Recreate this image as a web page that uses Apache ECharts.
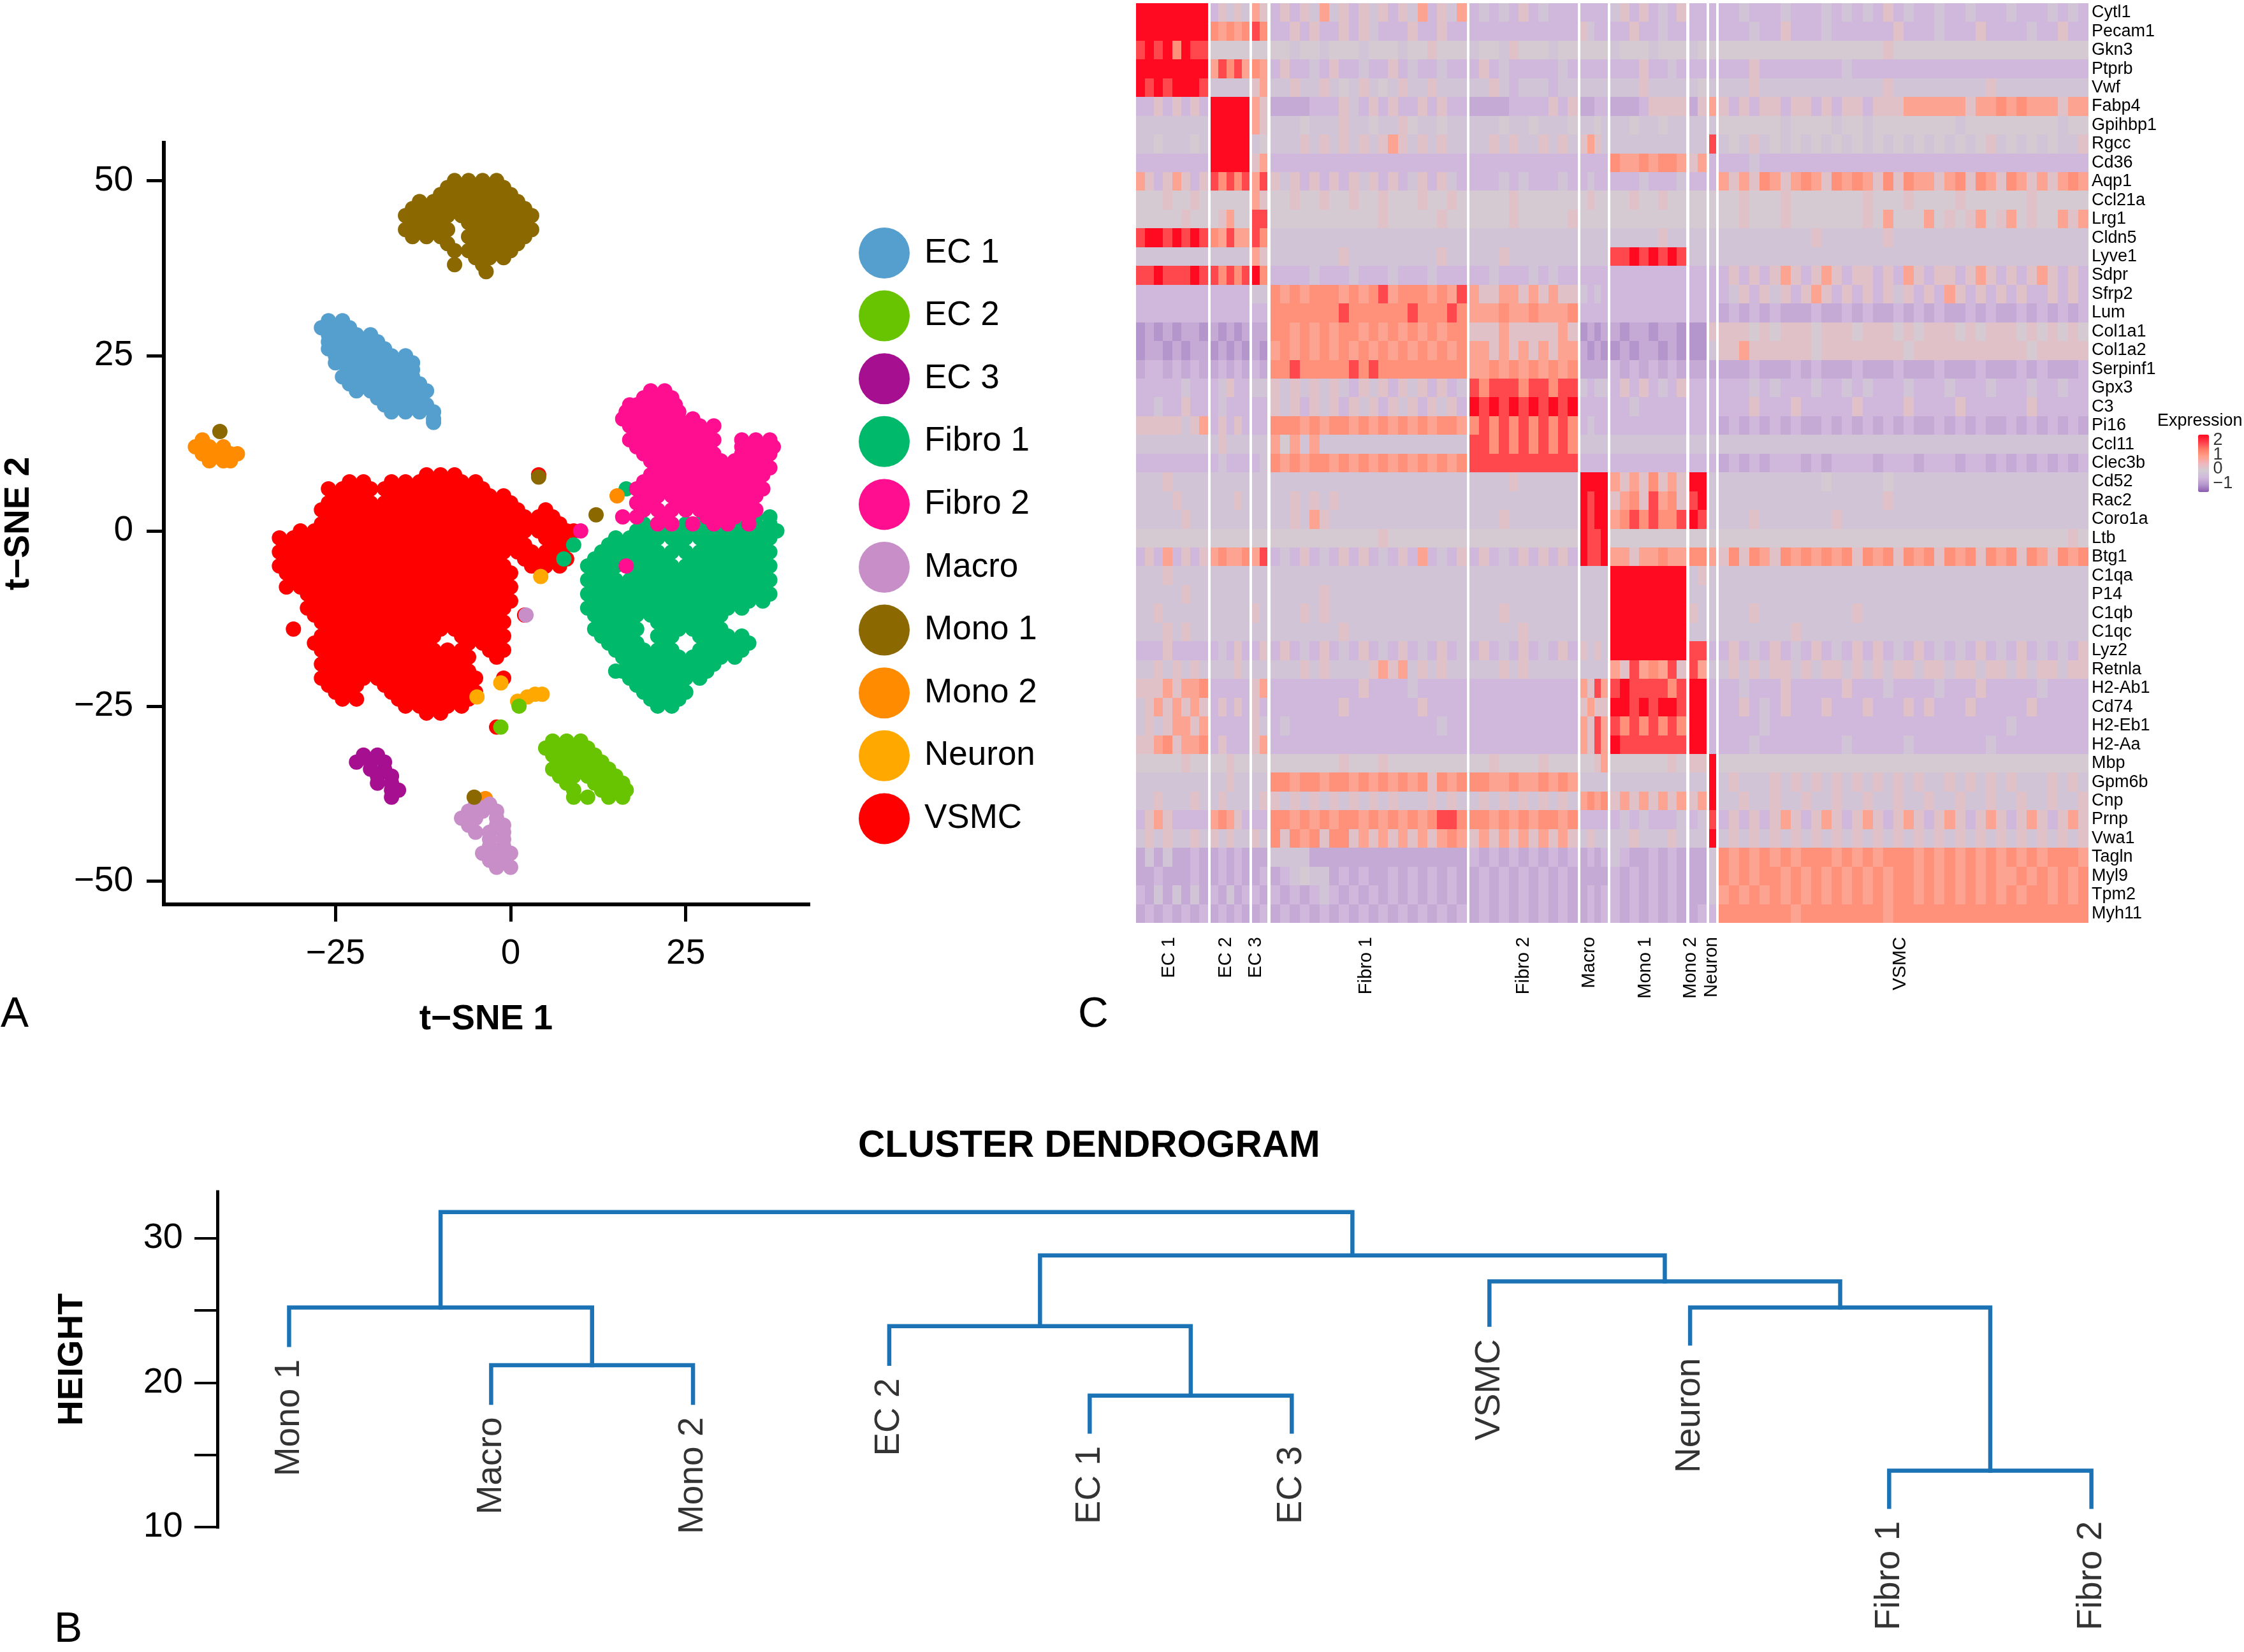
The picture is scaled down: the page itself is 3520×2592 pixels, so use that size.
<!DOCTYPE html>
<html><head><meta charset="utf-8">
<script src="https://cdn.jsdelivr.net/npm/echarts@6/dist/echarts.min.js"></script>
<style>html,body{margin:0;background:#fff}#c{width:3520px;height:2592px}</style></head>
<body><div id="c"></div>
<script>
// ---------- Panel A: t-SNE, each row is [y, x, x, x ...]
const vsmcRows=[
[8,-12,-10,-8,4],
[7,-23,-21,-17,-15,-13,-11,-9,-7,-5],
[6,-26,-24,-22,-20,-18,-16,-14,-12,-10,-8,-6,-4],
[5,-25,-23,-21,-17,-15,-13,-11,-9,-7,-5,-3,-1],
[4,-26,-24,-22,-20,-18,-16,-14,-12,-10,-8,-6,-4,-2,0],
[3,-27,-25,-23,-21,-19,-17,-15,-13,-11,-9,-7,-5,-3,-1,1,5],
[2,-26,-24,-22,-20,-18,-16,-14,-12,-10,-8,-6,-4,-2,0,2,4,6],
[1,-27,-25,-23,-21,-19,-17,-15,-13,-11,-9,-7,-5,-3,-1,1,3,5,7],
[0,-30,-28,-26,-24,-22,-20,-18,-16,-14,-12,-10,-8,-6,-4,-2,0,2,4,6,8,9],
[-1,-33,-31,-29,-27,-25,-23,-21,-19,-17,-15,-13,-11,-9,-7,-5,-3,-1,1,5,7],
[-2,-32,-30,-28,-26,-24,-22,-20,-18,-16,-14,-12,-10,-8,-6,-4,-2,0,2,6,8],
[-3,-33,-31,-29,-27,-25,-23,-21,-19,-17,-15,-13,-11,-9,-7,-5,-3,-1,1,3,5,7],
[-4,-32,-30,-28,-26,-24,-22,-20,-18,-16,-14,-12,-10,-8,-6,-4,-2,2,4,6,8],
[-5,-33,-31,-29,-27,-25,-23,-21,-19,-17,-15,-13,-11,-9,-7,-5,-3,-1,3,5,7],
[-6,-32,-30,-28,-26,-24,-22,-20,-18,-16,-14,-12,-10,-8,-6,-4,-2,0],
[-7,-31,-29,-27,-25,-23,-21,-19,-17,-15,-13,-11,-9,-7,-5,-3,-1],
[-8,-32,-30,-28,-26,-24,-22,-20,-18,-16,-14,-12,-10,-8,-6,-4,-2,0],
[-9,-29,-27,-25,-23,-21,-19,-17,-15,-13,-11,-9,-7,-5,-3,-1],
[-10,-28,-26,-24,-22,-20,-18,-16,-14,-12,-10,-8,-6,-4,-2,0],
[-11,-29,-27,-25,-23,-21,-19,-17,-15,-13,-11,-9,-7,-5,-3,-1],
[-12,-28,-26,-24,-22,-20,-18,-16,-14,-12,-10,-8,-6,-4,-2,2],
[-13,-27,-25,-23,-21,-19,-17,-15,-13,-11,-9,-7,-5,-3,-1],
[-14,-31,-26,-24,-22,-20,-18,-16,-14,-12,-10,-8,-6,-4,-2],
[-15,-27,-25,-23,-21,-19,-17,-15,-13,-11,-7,-5,-3,-1],
[-16,-28,-26,-24,-22,-20,-18,-16,-14,-12,-6,-4,-2],
[-17,-27,-25,-23,-21,-19,-17,-15,-13,-11,-9,-7,-3,-1],
[-18,-26,-24,-22,-20,-18,-16,-14,-12,-10,-8,-6,-2],
[-19,-27,-25,-23,-21,-19,-17,-15,-13,-11,-9,-7],
[-20,-26,-24,-22,-20,-18,-16,-14,-12,-10,-8,-6],
[-21,-27,-25,-23,-21,-19,-17,-15,-13,-11,-9,-7,-5,-1],
[-22,-26,-24,-22,-18,-16,-14,-12,-10,-8,-6],
[-23,-25,-23,-17,-15,-13,-11,-9,-7,-5],
[-24,-24,-22,-16,-14,-12,-10,-8,-6],
[-25,-15,-13,-11,-9,-7],
[-26,-12,-10],
[-28,-2]];
const fibro1Rows=[
[6,16.5],
[2,35,37],
[1,19,21,23,25,27,29,31,33,35,37],
[0,18,20,22,24,26,28,30,32,34,36,38],
[-1,15,17,19,21,23,25,27,29,31,33,35,37],
[-2,9,14,16,18,20,24,28,30,32,34,36],
[-3,13,15,17,19,21,23,25,27,29,31,33,35,37],
[-4,7.6,12,14,16,18,20,22,26,28,30,32,34,36],
[-5,11,13,15,17,19,21,23,25,27,29,31,33,35,37],
[-6,12,14,18,20,22,24,26,28,30,32,34,36],
[-7,11,13,15,17,19,21,23,25,27,29,31,33,35,37],
[-8,12,14,16,18,20,22,24,26,28,30,32,34,36],
[-9,11,13,15,17,19,21,23,25,27,29,31,33,35,37],
[-10,12,14,16,18,20,22,24,26,28,30,32,34,36],
[-11,11,13,15,17,19,21,23,25,27,29,31,33],
[-12,12,14,16,18,20,22,24,26,28,30],
[-13,13,15,17,21,23,25,27,29],
[-14,12,14,16,18,22,24,26,28,30],
[-15,13,15,17,21,23,27,29,31,33],
[-16,14,16,18,22,28,30,32,34],
[-17,15,17,19,21,23,27,29,31,33],
[-18,16,18,20,22,24,26,28,30,32],
[-19,17,19,21,23,25,27,29],
[-20,15,16,18,20,22,24,26,28],
[-21,17,19,21,23,25,27],
[-22,18,20,22,24],
[-23,19,21,23,25],
[-24,20,22,24],
[-25,21,23]];
const fibro2Rows=[
[20,20,22],
[19,19,21,23],
[18,17,18,20,22,23.5],
[17,16.5,17,19,21,23,24],
[16,16,18,20,22,24,26],
[15,17,19,21,23,25,27,29],
[14,18,20,22,24,26,28],
[13,17,19,21,23,25,27,29,33,35,37],
[12,18,20,22,24,26,28,33,34,36,37.5],
[11,19,21,23,25,27,29,33,35,37],
[10,20,22,24,26,28,30,32,34,36],
[9,21,23,25,27,29,31,33,35,37],
[8,20,22,24,26,28,30,32,34,36],
[7,19,21,23,25,27,29,31,33,35],
[6,18,20,22,24,26,28,30,32,34,36],
[5,19,21,23,25,27,29,31,33,35],
[4,18,20,24,26,28,30,32,34],
[3,19,21,23,25,27,29,31,33,35],
[2,16,18,22,28,30,32,34],
[1,21,23,26,29,31,34],
[0,10],
[-5,16.5]];
const ec1Rows=[
[30,-26,-24],
[29,-27,-25,-23],
[28,-26,-24,-22,-20],
[27,-26,-25,-23,-21,-19],
[26,-26,-24,-22,-20,-18],
[25,-25,-23,-21,-19,-17,-15],
[24,-25,-24,-22,-20,-18,-16,-14],
[23,-23,-21,-19,-17,-15,-14],
[22,-24,-22,-20,-18,-16,-14],
[21,-23,-21,-19,-17,-15,-13],
[20,-22,-20,-18,-16,-14,-12],
[19,-19,-17,-15,-13],
[18,-18,-16,-14,-12],
[17,-17,-15,-13,-11],
[16,-11],
[15.5,-11]];
const ec2Rows=[
[-30,6,8,10],
[-31,5,7,9,11],
[-32,6,8,10,12],
[-33,7,9,11,13],
[-34,6,8,10,12,14],
[-35,7,9,11,13,15],
[-36,8,12,14,16],
[-37,9,13,15,16.5],
[-38,9,11,14,16],
[-25,1.2],[-28,-1.4]];
const ec3Rows=[
[-32,-21,-19],
[-33,-22,-20,-18],
[-34,-20,-18],
[-35,-19,-17],
[-36,-19,-17],
[-37,-17,-16],
[-38,-17]];
const macroRows=[
[-39,-5,-3],
[-40,-6,-4,-2],
[-41,-7,-5,-2],
[-42,-6,-2,-1],
[-43,-5,-3,-1],
[-44,-3,-1],
[-45,-3,-1],
[-46,-4,-2,0],
[-47,-3,-1],
[-48,-2,0],
[-12,2.2]];
const mono1Rows=[
[50,-8,-6,-4,-2],
[49,-9,-7,-5,-3,-1],
[48,-10,-8,-6,-4,-2,0],
[47,-13,-11,-9,-7,-5,-3,-1,1],
[46,-14,-12,-10,-8,-6,-4,-2,0,2],
[45,-15,-13,-11,-9,-7,-5,-3,-1,1,3],
[44,-14,-12,-10,-6,-4,-2,0,2],
[43,-15,-13,-11,-9,-5,-3,-1,1,3],
[42,-14,-12,-10,-6,-4,-2,0,2],
[41,-9,-5,-3,-1,1],
[40,-8,-6,-4,-2,0],
[39,-5,-3,-1],
[38,-8,-4],
[37,-3.5],
[14.2,-41.5],
[7.7,4],
[2.3,12.2],
[-38,-5.2]];
const mono2Rows=[
[13,-44],
[12,-45,-43,-41],
[11,-44,-42,-40,-39],
[10,-43,-41,-40],
[5,15.2],
[-38.2,-3.6]];
const neuronRows=[
[-6.5,4.3],
[-21.7,-1.4],
[-23.3,3.5,4.5],
[-23.7,-4.8,2.4],
[-24.3,1]];

const legendNames=['EC 1','EC 2','EC 3','Fibro 1','Fibro 2','Macro','Mono 1','Mono 2','Neuron','VSMC'];
const scatterTicksX=[-25,0,25];
const scatterTicksY=[-50,-25,0,25,50];

// ---------- Panel B: dendrogram
const leafNames=['Mono 1','Macro','Mono 2','EC 2','EC 1','EC 3','VSMC','Neuron','Fibro 1','Fibro 2'];
const leafOrder=[0,1.009,2.017,2.997,3.998,5.007,5.994,6.996,7.99,9];
const leafEnds=[22.6,18.6,18.6,21.3,16.6,16.6,24,22.7,11.4,11.4];
// [left child, right child, height]; a number is a leaf, 'mK' is merge K
const merges=[[1,2,21.2],[0,'m0',25.2],[4,5,19.1],[3,'m2',23.9],[8,9,13.9],[7,'m4',25.2],[6,'m5',27],['m3','m6',28.8],['m1','m7',31.8]];
const heightTicks=[10,15,20,25,30];
const heightLabels=[10,20,30];

// ---------- Panel C: heatmap
const clusterNames=['EC 1','EC 2','EC 3','Fibro 1','Fibro 2','Macro','Mono 1','Mono 2','Neuron','VSMC'];
const clusterCells=[113,61,24,308,170,43,119,27,11,580];
const genes=['Cytl1','Pecam1','Gkn3','Ptprb','Vwf','Fabp4','Gpihbp1','Rgcc','Cd36','Aqp1','Ccl21a','Lrg1','Cldn5','Lyve1','Sdpr','Sfrp2','Lum','Col1a1','Col1a2','Serpinf1','Gpx3','C3','Pi16','Ccl11','Clec3b','Cd52','Rac2','Coro1a','Ltb','Btg1','C1qa','P14','C1qb','C1qc','Lyz2','Retnla','H2-Ab1','Cd74','H2-Eb1','H2-Aa','Mbp','Gpm6b','Cnp','Prnp','Vwa1','Tagln','Myl9','Tpm2','Myh11'];
// expression level digit -> value
const levelValues=[-1.1,-0.8,-0.6,-0.3,-0.05,0.15,0.8,1.1,1.8,2.4];
// one string per gene; groups of digits are the clusters, left to right
const geneLevels=[
"99999999 25353 65 25253635253525362536 23232523222 2222 35252325 22 2 223222322232323252322322322232223232",
"99999999 76767 87 22525225253222522522 22222222222 5322 22522322 22 2 222322522232222225222322252222322522",
"89897988 44444 44 44344344434443445444 34435444344 4444 34443444 34 4 444444444444444454444444444444444444",
"99999999 68786 76 25223252232252322322 25232222232 2222 22252232 22 2 222522222222322222222222222222222222",
"98989998 33333 56 33533534353435335333 33532333233 3333 33353333 34 3 333533333333333353333333335333333333",
"22525252 99999 65 11112225325252252522 11112222525 1122 11125555 15 6 525255255252552555666666566767666566",
"33333333 99999 65 33343335334335433433 33343343334 3343 33433433 33 3 444444344443443444444443444444444344",
"33433343 99999 34 33353535353565353533 33535335353 5653 33333333 33 8 343534343434343434343434345343434335",
"22222222 99999 56 22222222222222222222 22222222222 2222 76676776 56 2 222322222222222222222222222222222222",
"65256525 87878 68 53525252535252352532 22232322232 2322 22232223 22 2 656576567657676575766567576576565676",
"44454454 44444 65 44544544544544454454 44445444444 4544 44544544 44 4 445444544444445444544445444444544444",
"44444544 45644 88 44444444444544444544 44445444445 4444 44444444 44 4 445444544444445464446454564564544656",
"89989898 76866 87 33333333333333333333 33333333333 3333 33333533 33 3 333333333533333353333333333333333333",
"33333333 33333 65 33333335333333333533 33353333333 3333 88989898 33 3 333333333333333333333333333333333333",
"88988898 87878 97 22223222322232223222 22322232322 2222 22222222 22 2 252525652565255252652552565252565252",
"22222222 22222 33 76767776767867776768 65566565655 3232 22222222 22 2 235253525652525253525265252525225252",
"22222222 22222 22 77777778777777877787 66676676667 2222 22222222 22 2 121212111211212112121211212112121212",
"01010110 10101 11 77676767767676767677 55565555565 0101 10110110 00 5 555454555455545554545554545554545454",
"01101011 01010 10 67676767676767676767 66565656566 1010 01011010 00 3 556555555455555555455555555555455555",
"12212121 12121 21 77877777878777777777 66767676767 1111 21212121 11 1 111211121211121112111211121112121112",
"22222322 23522 33 53535353253525352523 87888788788 3233 25252325 22 2 222323222322323222322232223222322322",
"22322522 23222 22 53525352535253525352 98989898989 2222 22322222 22 2 222522252222252222522225222222522222",
"55555356 25252 22 77767677676767676776 78787878787 2322 22222222 22 2 121212121121212121211212121121212121",
"33333333 35333 33 64636333333333333333 88787878787 3333 33333333 33 3 333333333333333333333333333333333333",
"22222222 23222 23 76767767676767676767 88888888888 2222 22222222 22 2 121212221212222122212221221212121212",
"33353333 33333 33 33333333333333333333 33335333333 9999 65657565 99 3 333333333343333343333333333333333333",
"33335333 33353 33 33535353333333333333 33333333333 9899 56758675 89 3 333333333333333353333333333333333333",
"33333533 33333 33 33536533333333333333 33353333333 9899 67878778 98 3 333533333335333333333333333333333333",
"44444444 44444 44 44444444444544444444 44444444444 9889 44444444 44 4 444444444444444444444444444444444454",
"25262525 67667 68 23252325252325262325 25232525252 9889 66566766 77 6 575765767676757675767576757675765767",
"33353333 33333 33 33333333333333333333 33333333333 3333 99999999 35 3 333333333333333333333333333333333333",
"33333533 33333 33 33333533333333333333 33333333333 3333 99999999 33 3 333333333333333333333333333333333333",
"33533333 33333 53 33353533333333333333 33353333333 3333 99999999 53 3 333533333333353333333333333333333333",
"33353533 33333 33 33333335333333333333 33333533333 3333 99999999 33 3 333333353333333333333333333333333333",
"22252222 23252 25 25232523252325232523 25232523252 5353 99999999 88 2 252325232523252523252323252325232325",
"33535353 33353 33 33353533335656353533 33353533333 3333 65867685 86 3 353535535355353535535535535535355355",
"55565667 22222 56 22222222252222322222 22222222222 6586 89888878 99 2 223222522222522232222322252222232222",
"35656565 25252 52 22222225222222252222 22222222222 5655 99898998 99 2 225232522252225222525222522222522222",
"35356656 22222 53 23222222222222222322 22222222222 6586 87878787 99 2 222232222222222222222222222232222222",
"55675667 25222 56 22222222222222222222 22222222222 6586 98888888 99 2 222322222222322222322222223222222222",
"44444544 44544 44 44444445444544444444 44544445444 4456 44444454 55 9 444444444444444444444444444444444444",
"33333333 33533 33 77677677676767675767 77667667676 3333 33333333 33 9 353335353535353535353353535353335353",
"33533353 35333 35 53535353535353335353 35353535353 6767 56565656 56 9 335335335335335335335335335335335335",
"25652222 67652 22 77676767767676767887 77676767767 2222 23232223 23 8 252525652565256525652565256525652565",
"35353353 53533 53 75767577565656565676 56565656565 3533 33533353 33 9 353535353535353535353535353535353535",
"13131121 12121 11 33331111111111111111 21212121212 1212 32112121 11 3 767676767776767677767676767676767776",
"11211121 12121 12 12343312121121212121 12121212121 1111 21212121 11 3 767677676767676767767676767667676767",
"21313131 21312 21 21212321212121212121 12121212121 1212 21212121 11 3 676767676767676767767676767676776767",
"12121212 12121 12 12121212121212121212 12121212121 1212 21212121 12 2 777777767777777767777777777777777777"];
const colorbarTicks=[-1,0,1,2];

// ---------- styles
const FONT='"Liberation Sans"';
const clusterColors={'EC 1':'#559FCF','EC 2':'#68C400','EC 3':'#A60F90','Fibro 1':'#00B96B','Fibro 2':'#FF0F8F','Macro':'#C88EC8','Mono 1':'#8B6900','Mono 2':'#FF8C00','Neuron':'#FFA900','VSMC':'#FF0000'};
const minus=v=>String(v).replace('-','\u2212');

// heatmap cells: x axis counts cells, with a thin gap between clusters
const GAP=4.2;
const heatData=[];
const clusterStart=[];
let cursor=0;
clusterCells.forEach(n=>{clusterStart.push(cursor);cursor+=n+GAP;});
const heatTotal=cursor-GAP;
geneLevels.forEach((row,r)=>{
  row.split(' ').forEach((tok,c)=>{
    const w=clusterCells[c]/tok.length;
    [...tok].forEach((d,k)=>{
      heatData.push([clusterStart[c]+k*w,clusterStart[c]+(k+1)*w,r,levelValues[+d]]);
    });
  });
});
// label anchors along the heatmap axis
const heatLabelAt=[52,141,188,361,608,711,799,870,903,1199];
const heatLabelName={};heatLabelAt.forEach((p,i)=>heatLabelName[p]=clusterNames[i]);

// dendrogram geometry from the merge table
const nodeX={};
leafNames.forEach((n,i)=>nodeX[i]=leafOrder[i]);
const nodeH={};
leafEnds.forEach((h,i)=>nodeH[i]=h);
const dendSeries=merges.map((m,k)=>{
  const [l,r,h]=m;
  nodeX['m'+k]=(nodeX[l]+nodeX[r])/2;nodeH['m'+k]=h;
  return {type:'line',xAxisIndex:2,yAxisIndex:2,silent:true,animation:false,showSymbol:false,symbol:'none',clip:false,
    lineStyle:{color:'#1B72B5',width:6.5,cap:'square',join:'miter'},
    data:[[nodeX[l],nodeH[l]],[nodeX[l],h],[nodeX[r],h],[nodeX[r],nodeH[r]]]};
});

const toPts=rows=>rows.flatMap(([y,...xs])=>xs.map(x=>[x,y]));
const scat=(name,rows)=>({type:'scatter',name,xAxisIndex:0,yAxisIndex:0,silent:true,animation:false,symbol:'circle',symbolSize:24,
  itemStyle:{color:clusterColors[name],opacity:1},data:toPts(rows)});

const axisBlack={lineStyle:{color:'#000',width:6,cap:'square'}};
const tick={lineStyle:{color:'#000',width:5}};

const option={
  backgroundColor:'#fff',
  animation:false,
  textStyle:{fontFamily:FONT,color:'#000'},
  title:[
    {text:'A',left:1,top:1560,textStyle:{fontFamily:FONT,fontWeight:'normal',fontSize:66,color:'#000'},padding:0},
    {text:'C',left:1691,top:1560,textStyle:{fontFamily:FONT,fontWeight:'normal',fontSize:66,color:'#000'},padding:0},
    {text:'B',left:85,top:2525,textStyle:{fontFamily:FONT,fontWeight:'normal',fontSize:66,color:'#000'},padding:0},
    {text:'CLUSTER DENDROGRAM',left:1346,top:1769,textStyle:{fontFamily:FONT,fontWeight:'bold',fontSize:58.5,color:'#000'},padding:0},
    {text:'Expression',left:3384,top:647,textStyle:{fontFamily:FONT,fontWeight:'normal',fontSize:27,color:'#000'},padding:0}
  ],
  legend:{data:legendNames,orient:'vertical',left:1347,top:357,padding:0,icon:'circle',itemWidth:80,itemHeight:80,itemGap:18.6,selectedMode:false,
    textStyle:{fontFamily:FONT,fontSize:53,color:'#000',padding:[5,0,0,18]}},
  grid:[
    {left:257,top:224,width:1011,height:1195},
    {left:1782,top:5,width:1494,height:1443},
    {left:341,top:1870,width:3059,height:526},
    {left:3465,top:682,width:2,height:90}
  ],
  xAxis:[
    {gridIndex:0,type:'value',min:-49.5,max:42.5,splitLine:{show:false},axisLine:{...axisBlack,onZero:false},
     axisTick:{...tick,length:27,customValues:scatterTicksX},
     axisLabel:{customValues:scatterTicksX,fontSize:55,margin:50,color:'#000',fontFamily:FONT,formatter:minus},
     name:'t\u2212SNE 1',nameLocation:'middle',nameGap:153,nameTextStyle:{fontSize:55,fontWeight:'bold',fontFamily:FONT,color:'#000'}},
    {gridIndex:1,type:'value',min:0,max:heatTotal,splitLine:{show:false},axisLine:{show:false},axisTick:{show:false},
     axisLabel:{customValues:heatLabelAt,rotate:90,fontSize:29,margin:22,color:'#000',fontFamily:FONT,formatter:v=>heatLabelName[v]||''}},
    {gridIndex:2,type:'value',min:-0.358,max:9.38,show:false},
    {gridIndex:3,type:'value',min:0,max:1,show:false}
  ],
  yAxis:[
    {gridIndex:0,type:'value',min:-53.3,max:55.4,splitLine:{show:false},axisLine:{...axisBlack,onZero:false},
     axisTick:{...tick,length:27,customValues:scatterTicksY},
     axisLabel:{customValues:scatterTicksY,fontSize:55,margin:48,padding:[18,0,0,0],color:'#000',fontFamily:FONT,formatter:minus},
     name:'t\u2212SNE 2',nameLocation:'middle',nameGap:200,nameTextStyle:{fontSize:55,fontWeight:'bold',fontFamily:FONT,color:'#000'}},
    {gridIndex:1,type:'category',data:genes,inverse:true,position:'right',axisLine:{show:false},axisTick:{show:false},splitLine:{show:false},
     axisLabel:{interval:0,fontSize:27,margin:5,color:'#000',fontFamily:FONT}},
    {gridIndex:2,type:'value',min:10,max:33.2,splitLine:{show:false},axisLine:{lineStyle:{color:'#000',width:5,cap:'square'},onZero:false},
     axisTick:{lineStyle:{color:'#000',width:4},length:36,customValues:heightTicks},
     axisLabel:{customValues:heightLabels,fontSize:56,margin:54,padding:[18,0,0,0],color:'#000',fontFamily:FONT},
     name:'HEIGHT',nameLocation:'middle',nameGap:200,nameTextStyle:{fontSize:55,fontWeight:'bold',fontFamily:FONT,color:'#000'}},
    {gridIndex:3,type:'value',position:'right',min:-1.6,max:2.4,show:false}
  ],
  visualMap:{type:'continuous',seriesIndex:0,dimension:3,min:-1.6,max:2.4,left:3448,top:682,itemWidth:17,itemHeight:90,padding:0,calculable:false,hoverLink:false,text:null,
    inRange:{color:['#8A5BAE','#B596CC','#CFB8DB','#D3CCD4','#EFB5BC','#FF9E88','#FF7A66','#FF3A48','#FF0A20']}},
  series:[
    {type:'custom',xAxisIndex:1,yAxisIndex:1,silent:true,animation:false,progressive:0,encode:{x:[0,1],y:2},data:heatData,
     renderItem(p,api){
       const a=api.coord([api.value(0),api.value(2)]);
       const b=api.coord([api.value(1),api.value(2)]);
       const h=api.size([0,1])[1];
       const x0=Math.round(a[0]),x1=Math.round(b[0]);
       return {type:'rect',shape:{x:x0,y:Math.round(a[1]-h/2),width:x1-x0,height:Math.round(a[1]+h/2)-Math.round(a[1]-h/2)},
         style:{fill:api.visual('color')}};
     }},
    scat('VSMC',vsmcRows),
    scat('Fibro 1',fibro1Rows),
    scat('Fibro 2',fibro2Rows),
    scat('Neuron',neuronRows),
    scat('Mono 2',mono2Rows),
    scat('EC 1',ec1Rows),
    scat('EC 2',ec2Rows),
    scat('EC 3',ec3Rows),
    scat('Macro',macroRows),
    scat('Mono 1',mono1Rows),
    ...dendSeries,
    {type:'scatter',xAxisIndex:2,yAxisIndex:2,silent:true,animation:false,symbolSize:1,clip:false,itemStyle:{color:'transparent'},
     data:leafNames.map((n,i)=>({name:n,value:[leafOrder[i],leafEnds[i]]})),
     label:{show:true,formatter:'{b}',position:'bottom',distance:22,rotate:90,align:'right',verticalAlign:'middle',fontSize:55,color:'#000',fontFamily:FONT}},
    {type:'scatter',xAxisIndex:3,yAxisIndex:3,silent:true,animation:false,symbolSize:1,clip:false,itemStyle:{color:'transparent'},
     data:colorbarTicks.map(v=>[0,v]),
     label:{show:true,formatter:p=>minus(p.value[1]),position:'right',distance:6,fontSize:27,color:'#000',fontFamily:FONT}}
  ]
};
echarts.init(document.getElementById('c'),null,{renderer:'canvas'}).setOption(option);
</script></body></html>
